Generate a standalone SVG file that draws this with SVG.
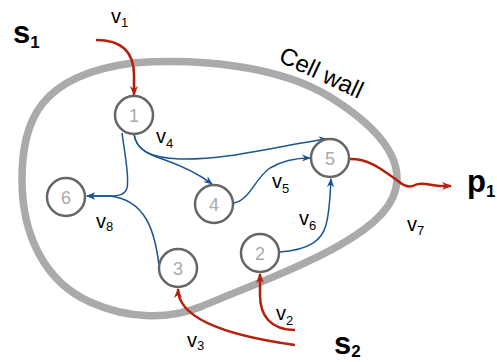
<svg xmlns="http://www.w3.org/2000/svg" width="497" height="362" viewBox="0 0 497 362">
<style>
.wall{fill:none;stroke:#aaaaaa;stroke-width:7.5}
.node circle{fill:#fff;stroke:#666;stroke-width:2.5}
.node text{font-family:"Liberation Sans",Arial,sans-serif;font-size:18px;fill:#aaa;text-anchor:middle}
.red{fill:none;stroke:#b5200d;stroke-width:2.5}
.blue{fill:none;stroke:#1b5592;stroke-width:1.5}
.lbl{font-family:"Liberation Sans",Arial,sans-serif;font-size:20px;fill:#000}
.sub{font-size:13px}
.big{font-family:"Liberation Sans",Arial,sans-serif;font-size:31px;font-weight:bold;fill:#000}
.bigsub{font-size:17px}
</style>
<defs>
<marker id="ar" viewBox="0 0 10 10" refX="9" refY="5" markerWidth="10" markerHeight="10" markerUnits="userSpaceOnUse" orient="auto"><path d="M0,1 L10,5 L0,9 L3,5 z" fill="#b5200d"/></marker>
<marker id="ab" viewBox="0 0 10 10" refX="9" refY="5" markerWidth="9" markerHeight="9" markerUnits="userSpaceOnUse" orient="auto"><path d="M0,1 L10,5 L0,9 L3,5 z" fill="#1b5592"/></marker>
</defs>
<g id="cellwall">
<path class="wall" d="M 133,63 C 200,58 280,66 330,97 C 370,122 398,150 397,180 C 396,205 375,225 340,245 C 300,268 240,290 200,307 C 170,319 130,320 90,302 C 45,282 22,235 22,180 C 22,120 40,75 133,63 Z"/>
<text class="lbl" style="font-size:24px" text-anchor="middle" transform="translate(318,80) rotate(25)">Cell wall</text>
</g>
<g id="connectors">
<path class="red" marker-end="url(#ar)" d="M 96,40 C 125,40 134,55 134,75 L 134,95"/>
<path class="red" marker-end="url(#ar)" d="M 295,330 C 270,330 260,315 260,295 L 260,274"/>
<path class="red" marker-end="url(#ar)" d="M 295,345 C 230,336 178,320 178,289"/>
<path class="red" marker-end="url(#ar)" d="M 349,159 C 370,158 385,172 398,181 C 405,187 410,188 415,185 C 422,181 430,186 440,186 L 451,186"/>
<path class="blue" marker-end="url(#ab)" d="M 122,133 C 126,160 129,180 127,188 C 125,195 118,196 110,196 L 87,196"/>
<path class="blue" marker-end="url(#ab)" d="M 159,266 C 155,230 145,200 110,196 L 87,196"/>
<path class="blue" marker-end="url(#ab)" d="M 134,134 C 136,150 150,158 180,159 C 230,160 280,145 327,139"/>
<path class="blue" marker-end="url(#ab)" d="M 134,134 C 136,150 150,155 165,160 C 185,167 200,175 212,184"/>
<path class="blue" marker-end="url(#ab)" d="M 234,203 C 250,200 255,178 270,168 C 280,162 295,158 310,158"/>
<path class="blue" marker-end="url(#ab)" d="M 279,252 C 310,250 322,240 326,225 C 330,210 330,195 331,179"/>
</g>
<g id="n1" class="node"><circle cx="134" cy="115" r="19"/><text x="134" y="121.5">1</text></g>
<g id="n2" class="node"><circle cx="260" cy="253" r="19"/><text x="260" y="259.5">2</text></g>
<g id="n3" class="node"><circle cx="178" cy="268" r="19"/><text x="178" y="274.5">3</text></g>
<g id="n4" class="node"><circle cx="214" cy="204" r="19"/><text x="214" y="210.5">4</text></g>
<g id="n5" class="node"><circle cx="330" cy="158" r="19"/><text x="330" y="164.5">5</text></g>
<g id="n6" class="node"><circle cx="66" cy="197" r="19"/><text x="66" y="203.5">6</text></g>
<g id="labels">
<text class="big" x="13" y="43">s<tspan class="bigsub" dy="5">1</tspan></text>
<text class="big" x="334" y="354">s<tspan class="bigsub" dy="3">2</tspan></text>
<text class="big" x="467" y="192">p<tspan class="bigsub" dy="5">1</tspan></text>
<text class="lbl" x="111" y="23">v<tspan class="sub" dy="4">1</tspan></text>
<text class="lbl" x="276" y="320">v<tspan class="sub" dy="5">2</tspan></text>
<text class="lbl" x="187" y="347">v<tspan class="sub" dy="3">3</tspan></text>
<text class="lbl" x="156" y="143">v<tspan class="sub" dy="5">4</tspan></text>
<text class="lbl" x="272" y="188">v<tspan class="sub" dy="5">5</tspan></text>
<text class="lbl" x="299" y="225">v<tspan class="sub" dy="5">6</tspan></text>
<text class="lbl" x="407" y="231">v<tspan class="sub" dy="4">7</tspan></text>
<text class="lbl" x="96" y="228">v<tspan class="sub" dy="3">8</tspan></text>
</g>
</svg>
